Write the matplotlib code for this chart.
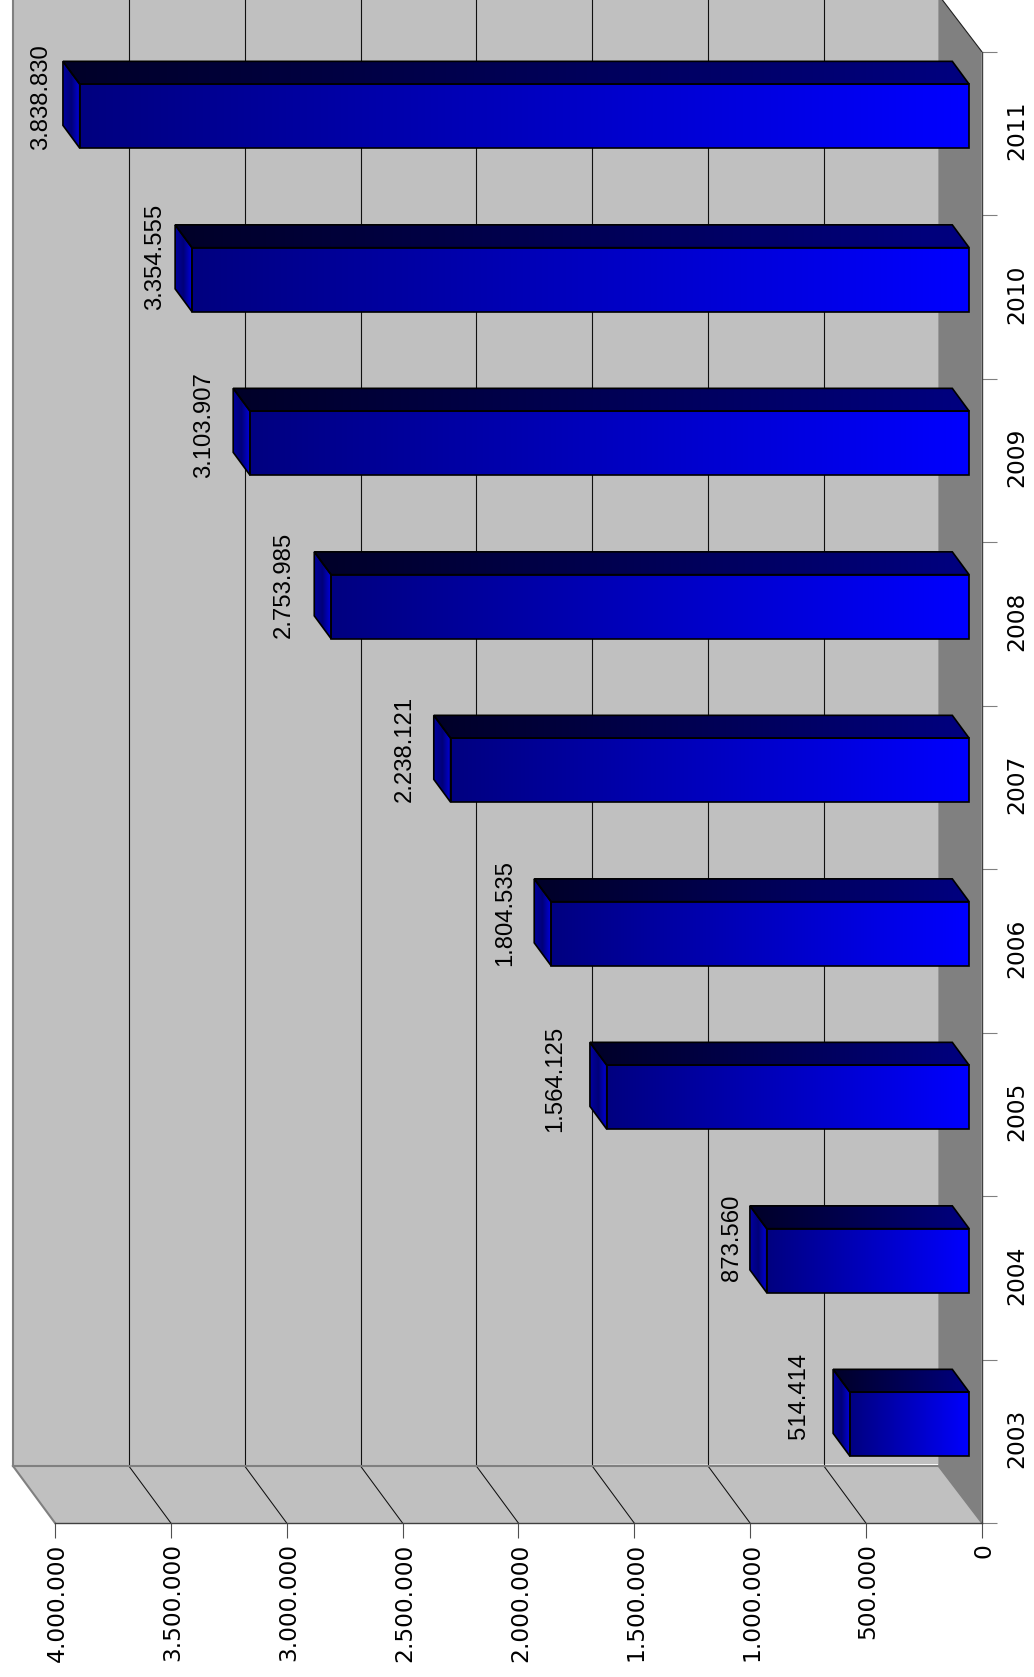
import numpy as np
import matplotlib
matplotlib.use("Agg")
import matplotlib.pyplot as plt
import matplotlib.transforms as mtransforms
from matplotlib.colors import LinearSegmentedColormap
from matplotlib.patches import Polygon

# Chart data
years = ["2003", "2004", "2005", "2006", "2007", "2008", "2009", "2010", "2011"]
values = [514414, 873560, 1564125, 1804535, 2238121, 2753985, 3103907, 3354555, 3838830]
value_labels = ["514.414", "873.560", "1.564.125", "1.804.535", "2.238.121",
                "2.753.985", "3.103.907", "3.354.555", "3.838.830"]
value_ticks = [0, 500000, 1000000, 1500000, 2000000, 2500000, 3000000, 3500000, 4000000]
value_tick_labels = ["0", "500.000", "1.000.000", "1.500.000", "2.000.000",
                     "2.500.000", "3.000.000", "3.500.000", "4.000.000"]

W, H = 1034, 1677
VMAX = 4000000
AX_TOP, AX_BOTTOM = 51.5, 1523
# 3D look: how far the back wall is pushed, in data units
PX_X = (981.7 - 55) / VMAX
PX_Y = (AX_BOTTOM - AX_TOP) / len(years)
DEPTH_X = 42 / PX_X
DEPTH_Y = 57 / PX_Y
BAR_Z0, BAR_Z1 = 0.30, 0.70
BAR_W = 64 / PX_Y

# the original nudges each value label a little differently (px)
LABEL_GAPS = [27, 11, 28, 22, 22, 24, 22, 13, 15]
LABEL_RISE = [16, 11, 17, 19, 19, 20, 16, 21, 17]


def dep(v, c, z):
    return (v + z * DEPTH_X, c + z * DEPTH_Y)


fig = plt.figure(figsize=(W / 100, H / 100), dpi=100)
ax = fig.add_axes([55 / W, 1 - AX_BOTTOM / H, (981.7 - 55) / W, (AX_BOTTOM - AX_TOP) / H])
ax.patch.set_visible(False)
ax.set_xlim(VMAX, 0)
ax.set_ylim(0, len(years))

n = len(years)
top = n + 0.5  # walls run off the top of the picture
WALL_Z = 1.035  # zero-side wall sits a touch further back than the grid

# walls and floor
ax.add_patch(Polygon([dep(VMAX, 0, 1), dep(0, 0, WALL_Z), dep(0, top, WALL_Z), dep(VMAX, top, 1)],
                     fc="#c0c0c0", ec="none", clip_on=False, zorder=1))
ax.add_patch(Polygon([dep(VMAX, 0, 0), dep(0, 0, 0), dep(0, 0, 1), dep(VMAX, 0, 1)],
                     fc="#c0c0c0", ec="none", clip_on=False, zorder=1))
wx, wy = dep(0, 0, WALL_Z)
ax.add_patch(Polygon([dep(0, 0, 0), dep(0, n, 0), (wx, n + DEPTH_Y), (wx, DEPTH_Y)],
                     fc="#808080", ec="none", clip_on=False, zorder=1))

# grid lines on wall + floor
for v in value_ticks[1:-1]:
    p0, p1, p2 = dep(v, 0, 0), dep(v, 0, 1), dep(v, top, 1)
    ax.plot([p0[0], p1[0]], [p0[1], p1[1]], color="#101010", lw=0.75, clip_on=False, zorder=1.5)
    ax.plot([p1[0], p2[0]], [p1[1], p2[1]], color="#101010", lw=0.8, clip_on=False, zorder=1.5)

# wall edges
edge = dict(color="#808080", lw=1.5, clip_on=False, zorder=1.6)
ax.plot(*zip(dep(VMAX, 0, 0), dep(VMAX, 0, 1)), **edge)
ax.plot(*zip(dep(VMAX, 0, 1), dep(VMAX, top, 1)), **edge)
ax.plot(*zip(dep(VMAX, 0, 1), dep(0, 0, 1)), **edge)
ax.plot(*zip(dep(0, 0, 0), (wx, DEPTH_Y)), color="#808080", lw=1, clip_on=False, zorder=1.6)
ax.plot(*zip(dep(0, n, 0), (wx, n + DEPTH_Y)), color="#202020", lw=0.8, clip_on=False, zorder=1.6)


def face(corners, x0, x1, colors):
    """Polygon with a left-to-right gradient, clipped image + black outline."""
    ys = [c[1] for c in corners]
    cmap = LinearSegmentedColormap.from_list("g", colors)
    poly = Polygon(corners, fc="none", ec="black", lw=1.2, joinstyle="miter",
                   clip_on=False, zorder=3.1)
    ax.add_patch(poly)
    im = ax.imshow(np.linspace(0, 1, 256).reshape(1, -1), cmap=cmap, aspect="auto",
                   extent=(x0, x1, min(ys), max(ys)), zorder=3, interpolation="bilinear")
    im.set_clip_path(poly)


for i, v in enumerate(values):
    lo = i + 0.5 - BAR_W / 2
    hi = i + 0.5 + BAR_W / 2
    # top (really the far side of the bar on the rotated page)
    corners = [dep(v, hi, BAR_Z0), dep(0, hi, BAR_Z0), dep(0, hi, BAR_Z1), dep(v, hi, BAR_Z1)]
    face(corners, dep(v, hi, BAR_Z1)[0], dep(0, hi, BAR_Z0)[0], ["#000028", "#000080"])
    # end cap
    corners = [dep(v, lo, BAR_Z0), dep(v, hi, BAR_Z0), dep(v, hi, BAR_Z1), dep(v, lo, BAR_Z1)]
    face(corners, dep(v, hi, BAR_Z1)[0], dep(v, hi, BAR_Z0)[0], ["#0000a0", "#000078", "#0000dc"])
    # front
    corners = [dep(v, lo, BAR_Z0), dep(0, lo, BAR_Z0), dep(0, hi, BAR_Z0), dep(v, hi, BAR_Z0)]
    face(corners, dep(v, hi, BAR_Z0)[0], dep(0, hi, BAR_Z0)[0], ["#000080", "#0000ff"])

    # value label sits off the end of the bar
    ax.annotate(value_labels[i], xy=dep(v, hi, BAR_Z1),
                xytext=((-LABEL_GAPS[i] + 4) * 0.72, LABEL_RISE[i] * 0.72),
                textcoords="offset points", rotation=90, ha="right", va="top",
                family="Liberation Sans", fontsize=17.2, annotation_clip=False, zorder=5)

ax.set_xlim(VMAX, 0)
ax.set_ylim(0, n)

# axes
for s in ["left", "top"]:
    ax.spines[s].set_visible(False)
for s in ["bottom", "right"]:
    ax.spines[s].set_color("#404040")
    ax.spines[s].set_linewidth(1.0)

ax.set_xticks(value_ticks)
ax.set_xticklabels(value_tick_labels)
ax.tick_params(axis="x", rotation=90, length=10.8, width=0.8, color="#505050",
               pad=3.8, labelsize=16.8)
nudge = mtransforms.ScaledTranslation(2 / 100, 0, fig.dpi_scale_trans)
for lab in ax.get_xticklabels():
    lab.set_transform(lab.get_transform() + nudge)

ax.yaxis.tick_right()
ax.set_yticks(np.arange(n + 1))
ax.set_yticklabels([])
ax.set_yticks(np.arange(n) + 0.5, minor=True)
ax.set_yticklabels(years, minor=True, rotation=90, va="center")
ax.tick_params(axis="y", which="major", length=10.8, width=0.8, color="#808080")
ax.tick_params(axis="y", which="minor", length=0, pad=17, labelsize=16.8)
nudge_y = mtransforms.ScaledTranslation(0, 2.5 / 100, fig.dpi_scale_trans)
for lab in ax.get_yticklabels(minor=True):
    lab.set_transform(lab.get_transform() + nudge_y)

fig.savefig("out.png", dpi=100)
